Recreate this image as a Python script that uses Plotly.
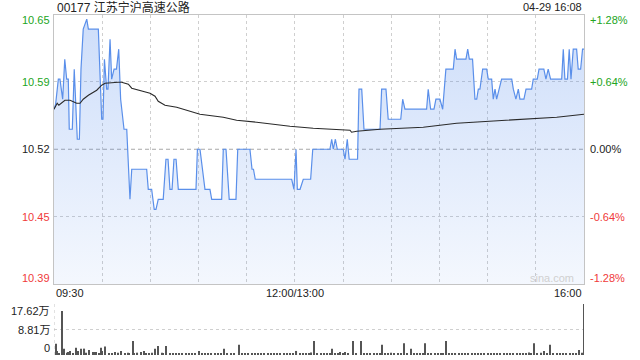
import plotly.graph_objects as go

# ---------------- data ----------------
title_text = "00177 江苏宁沪高速公路"
stamp_text = "04-29 16:08"
prev_close = 10.52
pct_levels = [1.28, 0.64, 0.0, -0.64, -1.28]
price_labels = ["10.65", "10.59", "10.52", "10.45", "10.39"]
pct_labels = ["+1.28%", "+0.64%", "0.00%", "-0.64%", "-1.28%"]
time_ticks = [0, 150, 330]
time_labels = ["09:30", "12:00/13:00", "16:00"]
vol_ticks = [17.62, 8.81, 0]
vol_labels = ["17.62万", "8.81万", "0"]

# price line (trading minute from 09:30, price)
price_min = [0, 1, 2.7, 3.7, 5.4, 6.7, 7.9, 8.9, 9.5, 11.4, 12.6, 14.5, 15.8, 16.8, 18.2, 20.4,
             21.4, 27.6, 29.7, 30.5, 31.4, 32.8, 33.6, 34.9, 35.9, 37.4, 38.9, 40.3, 41.5, 43.6,
             45.3, 47.3, 48.4, 57.7, 58.7, 60.8, 62.4, 63.5, 64.9, 68.0, 69.7, 71.0, 72.2, 73.5,
             74.7, 76.0, 77.4, 88.4, 89.3, 90.9, 94.0, 97.1, 98.2, 104.4, 105.4, 107.1, 109.1,
             113.3, 114.4, 122.0, 123.3, 124.2, 125.3, 148.0, 149.4, 150.7, 151.5, 153.2, 155.2,
             159.8, 161.1, 171.8, 172.9, 173.9, 175.2, 176.4, 180.1, 181.2, 182.6, 183.8, 189.0,
             189.9, 191.6, 193.0, 203.0, 204.0, 206.7, 208.1, 215.9, 217.1, 218.5, 232.0, 233.0,
             234.5, 236.6, 237.8, 240.3, 242.0, 244.0, 248.6, 249.7, 250.7, 256.5, 257.6, 258.6,
             260.6, 262.1, 263.2, 264.2, 265.2, 266.9, 269.4, 270.4, 272.5, 273.5, 274.6, 275.6,
             277.2, 278.7, 285.0, 286.0, 287.6, 289.1, 290.1, 292.6, 293.9, 297.4, 298.4, 300.9,
             302.0, 305.0, 306.3, 307.7, 309.2, 316.1, 317.1, 318.1, 319.7, 320.8, 321.9, 323.3,
             325.4, 326.4, 327.9, 329.1, 330]
price_val = [10.56, 10.565, 10.59, 10.59, 10.57, 10.61, 10.59, 10.59, 10.54, 10.54, 10.60, 10.53,
             10.53, 10.60, 10.64, 10.65, 10.64, 10.64, 10.55, 10.55, 10.61, 10.58, 10.58, 10.63,
             10.59, 10.60, 10.60, 10.62, 10.57, 10.54, 10.54, 10.47, 10.50, 10.50, 10.48, 10.48,
             10.46, 10.46, 10.47, 10.47, 10.51, 10.51, 10.48, 10.48, 10.51, 10.51, 10.48, 10.48,
             10.52, 10.52, 10.48, 10.48, 10.47, 10.47, 10.52, 10.52, 10.47, 10.47, 10.52, 10.52,
             10.50, 10.50, 10.49, 10.49, 10.48, 10.52, 10.48, 10.48, 10.49, 10.49, 10.52, 10.52,
             10.53, 10.52, 10.53, 10.52, 10.52, 10.51, 10.53, 10.51, 10.51, 10.58, 10.58, 10.54,
             10.54, 10.58, 10.58, 10.55, 10.55, 10.57, 10.56, 10.56, 10.58, 10.56, 10.56, 10.57,
             10.57, 10.56, 10.60, 10.60, 10.62, 10.61, 10.61, 10.62, 10.61, 10.61, 10.57, 10.57,
             10.58, 10.58, 10.60, 10.60, 10.59, 10.59, 10.57, 10.58, 10.57, 10.58, 10.59, 10.59,
             10.58, 10.57, 10.58, 10.57, 10.57, 10.58, 10.58, 10.59, 10.59, 10.60, 10.60, 10.59,
             10.60, 10.59, 10.59, 10.62, 10.59, 10.59, 10.62, 10.59, 10.62, 10.62, 10.60, 10.60,
             10.62, 10.62]

# average price line
avg_min = [0, 2, 3, 5, 6.8, 10, 14.1, 16.2, 18.2, 21.4, 26.6, 29.7, 31.8, 40, 42.1, 46.3, 48.4,
           59.8, 62.9, 64.9, 69.1, 76.4, 88.8, 90.9, 105.4, 113.7, 126.2, 146.9, 161.4, 171.8,
           184.3, 185.3, 188.5, 203, 229.9, 250.7, 271.5, 292.2, 313, 330]
avg_val = [10.560, 10.566, 10.564, 10.567, 10.569, 10.569, 10.566, 10.566, 10.570, 10.574, 10.579,
           10.584, 10.586, 10.587, 10.587, 10.585, 10.581, 10.576, 10.573, 10.568, 10.564, 10.562,
           10.556, 10.555, 10.552, 10.549, 10.547, 10.543, 10.541, 10.540, 10.539, 10.537, 10.538,
           10.540, 10.542, 10.546, 10.548, 10.550, 10.552, 10.555]

# volume (minute, 万股)
vol_min = [1, 2, 3, 5, 6, 8, 9, 10, 12, 14, 15, 17, 19, 20, 22, 24, 25, 26, 28, 29, 30, 32, 34, 36,
           38, 40, 42, 44, 46, 47, 49, 50, 52, 54, 56, 57, 59, 61, 63, 65, 67, 68, 70, 72, 74, 76,
           78, 80, 82, 84, 86, 88, 90, 92, 94, 96, 98, 100, 102, 104, 106, 108, 110, 112, 115, 117,
           119, 121, 123, 125, 127, 129, 131, 133, 135, 137, 139, 141, 143, 145, 147, 149, 151, 153,
           155, 157, 159, 160, 162, 164, 166, 168, 170, 172, 173, 175, 177, 178, 180, 181, 183, 186,
           188, 191, 193, 195, 197, 199, 201, 203, 204, 206, 208, 210, 212, 214, 216, 218, 220, 222,
           224, 226, 228, 230, 231, 233, 235, 237, 239, 241, 242, 244, 246, 248, 250, 252, 254, 256,
           258, 260, 262, 264, 266, 268, 270, 272, 274, 276, 278, 280, 282, 284, 286, 288, 290, 292,
           294, 296, 297, 299, 301, 303, 305, 307, 309, 311, 313, 315, 317, 319, 321, 323, 325, 327,
           329, 330]
vol_val = [3.9, 1.4, 0.6, 15.2, 2.2, 0.8, 1.0, 1.4, 0.6, 2.5, 1.4, 2.2, 2.2, 0.8, 1.7, 1.0, 1.0,
           1.0, 0.5, 2.5, 1.4, 2.9, 0.6, 0.6, 1.0, 0.8, 1.4, 0.6, 0.8, 0.4, 4.8, 0.6, 0.8, 1.0, 1.4,
           0.5, 0.6, 0.8, 2.2, 3.1, 0.8, 0.4, 3.1, 0.6, 0.5, 0.6, 0.4, 0.5, 0.6, 0.4, 0.5, 0.6, 1.4,
           0.5, 0.4, 0.6, 0.5, 0.4, 0.6, 0.5, 2.2, 0.4, 0.6, 0.5, 3.5, 0.5, 0.4, 0.6, 0.5, 0.7, 0.5,
           0.6, 0.4, 0.7, 0.5, 0.6, 0.4, 0.5, 0.4, 0.6, 0.5, 0.4, 1.4, 0.5, 0.6, 0.4, 0.5, 0.9, 4.8,
           0.5, 0.4, 0.6, 0.5, 0.4, 2.2, 0.5, 0.4, 1.0, 0.5, 1.0, 0.4, 4.8, 0.5, 4.8, 0.5, 0.4, 0.6,
           0.4, 0.5, 0.4, 3.5, 0.5, 0.6, 0.8, 0.5, 0.6, 0.4, 4.1, 0.5, 2.2, 0.5, 0.6, 0.7, 0.5, 4.1,
           0.6, 0.5, 0.7, 0.5, 0.6, 0.4, 4.8, 0.5, 0.4, 0.5, 0.6, 0.4, 0.7, 0.5, 0.6, 0.4, 0.5, 0.6,
           0.4, 0.5, 0.7, 0.5, 0.4, 0.6, 0.5, 0.7, 0.5, 0.6, 0.4, 0.5, 0.6, 0.5, 0.9, 0.6, 4.1, 0.5,
           0.8, 1.4, 0.5, 3.5, 0.6, 0.5, 0.7, 0.4, 0.6, 0.5, 0.7, 0.4, 1.7, 0.8, 17.62]

# ---------------- styling ----------------
W, H = 640, 360
X0, X1 = 54, 584
MAIN_TOP, MAIN_BOT = 14.5, 284
VOL_TOP, VOL_BOT = 304, 355
GREEN = "#22a522"
RED = "#f03a3a"
BLACK = "#222222"
FONT = "Arial, 'Liberation Sans', 'Noto Sans CJK SC', sans-serif"

levels = [prev_close * (1 + p / 100) for p in pct_levels]
ymax, ymin = levels[0], levels[-1]
label_colors = [GREEN, GREEN, BLACK, RED, RED]

fig = go.Figure()

fig.add_trace(go.Scatter(
    x=price_min, y=price_val, mode="lines",
    line=dict(color="#5a8fea", width=1.2),
    fill="tozeroy",
    fillgradient=dict(type="vertical", start=ymin, stop=ymax,
                      colorscale=[[0, "rgba(70,130,235,0.06)"], [1, "rgba(70,130,235,0.27)"]]),
    xaxis="x", yaxis="y", hoverinfo="skip"))
fig.add_trace(go.Scatter(
    x=avg_min, y=avg_val, mode="lines",
    line=dict(color="#2a2a2a", width=1.1),
    xaxis="x", yaxis="y", hoverinfo="skip"))
fig.add_trace(go.Bar(
    x=vol_min, y=vol_val, width=0.65,
    marker=dict(color="#555555", line=dict(width=0)),
    xaxis="x2", yaxis="y2", cliponaxis=False, hoverinfo="skip"))

xdom = [X0 / W, X1 / W]
ydom_main = [(H - MAIN_BOT) / H, (H - MAIN_TOP) / H]
ydom_vol = [(H - VOL_BOT) / H, (H - VOL_TOP) / H]

fig.update_layout(
    width=W, height=H, margin=dict(l=0, r=0, t=0, b=0),
    paper_bgcolor="white", plot_bgcolor="white", showlegend=False,
    font=dict(family=FONT, size=11, color=BLACK),
    xaxis=dict(domain=xdom, range=[0, 330], anchor="y",
               showgrid=True, gridcolor="#cfcfcf", griddash="dot", gridwidth=1,
               tick0=0, dtick=30, showticklabels=False, ticks="", zeroline=False,
               showline=True, linecolor="#c4c4c4", linewidth=1, mirror=True),
    yaxis=dict(domain=ydom_main, range=[ymin, ymax], anchor="x",
               tickvals=[levels[1], levels[3]], showgrid=True, gridcolor="#cfcfcf",
               griddash="dot", showticklabels=False, ticks="", zeroline=False,
               showline=True, linecolor="#c4c4c4", linewidth=1, mirror=True),
    xaxis2=dict(domain=xdom, range=[0, 330], anchor="y2", showgrid=False,
                showticklabels=False, ticks="", zeroline=False, showline=False),
    yaxis2=dict(domain=ydom_vol, range=[0, vol_ticks[0]], anchor="x2",
                tickvals=vol_ticks, showgrid=True, gridcolor="#cfcfcf", griddash="dot",
                showticklabels=False, ticks="", zeroline=False, showline=False),
)

# previous close line
fig.add_shape(type="line", xref="x", yref="y", x0=0, x1=330, y0=prev_close, y1=prev_close,
              line=dict(color="#a8a8a8", width=1, dash="4px,3px"), layer="below")
# volume left border
fig.add_shape(type="line", xref="x2", yref="y2", x0=0, x1=0, y0=0, y1=vol_ticks[0],
              line=dict(color="#c4c4c4", width=1, dash="dot"))

ann = []
ann.append(dict(text=title_text, x=55 / W, y=(H - 7) / H, xref="paper", yref="paper",
                xanchor="left", yanchor="middle", showarrow=False,
                font=dict(size=12, color=BLACK)))
ann.append(dict(text=stamp_text, x=X1 / W, y=(H - 7) / H, xref="paper", yref="paper",
                xanchor="right", yanchor="middle", showarrow=False,
                font=dict(size=11, color=BLACK)))
shifts = [-6, 0, 0, 0, 6]
for lv, pl, cl, col, sh in zip(levels, price_labels, pct_labels, label_colors, shifts):
    ann.append(dict(text=pl, x=X0 / W, y=lv, xref="paper", yref="y", xanchor="right",
                    yanchor="middle", xshift=-2, yshift=sh, showarrow=False,
                    font=dict(size=11, color=col)))
    ann.append(dict(text=cl, x=X1 / W, y=lv, xref="paper", yref="y", xanchor="left",
                    yanchor="middle", xshift=4, yshift=sh, showarrow=False,
                    font=dict(size=11, color=col)))
anchors = ["left", "center", "right"]
for tv, tl, an in zip(time_ticks, time_labels, anchors):
    ann.append(dict(text=tl, x=tv, y=(H - 293) / H, xref="x", yref="paper", xanchor=an,
                    yanchor="middle", showarrow=False, font=dict(size=11, color=BLACK)))
vshifts = [-7, 0, 7]
for vv, vl, sh in zip(vol_ticks, vol_labels, vshifts):
    ann.append(dict(text=vl, x=X0 / W, y=vv, xref="paper", yref="y2", xanchor="right",
                    yanchor="middle", xshift=-2, yshift=sh, showarrow=False,
                    font=dict(size=11, color=BLACK)))
ann.append(dict(text="sina.com", x=(X1 - 8) / W, y=(H - 278) / H, xref="paper", yref="paper",
                xanchor="right", yanchor="middle", showarrow=False,
                font=dict(size=11, color="#d0d0d0")))
fig.update_layout(annotations=ann)

fig.write_html("out.html")
